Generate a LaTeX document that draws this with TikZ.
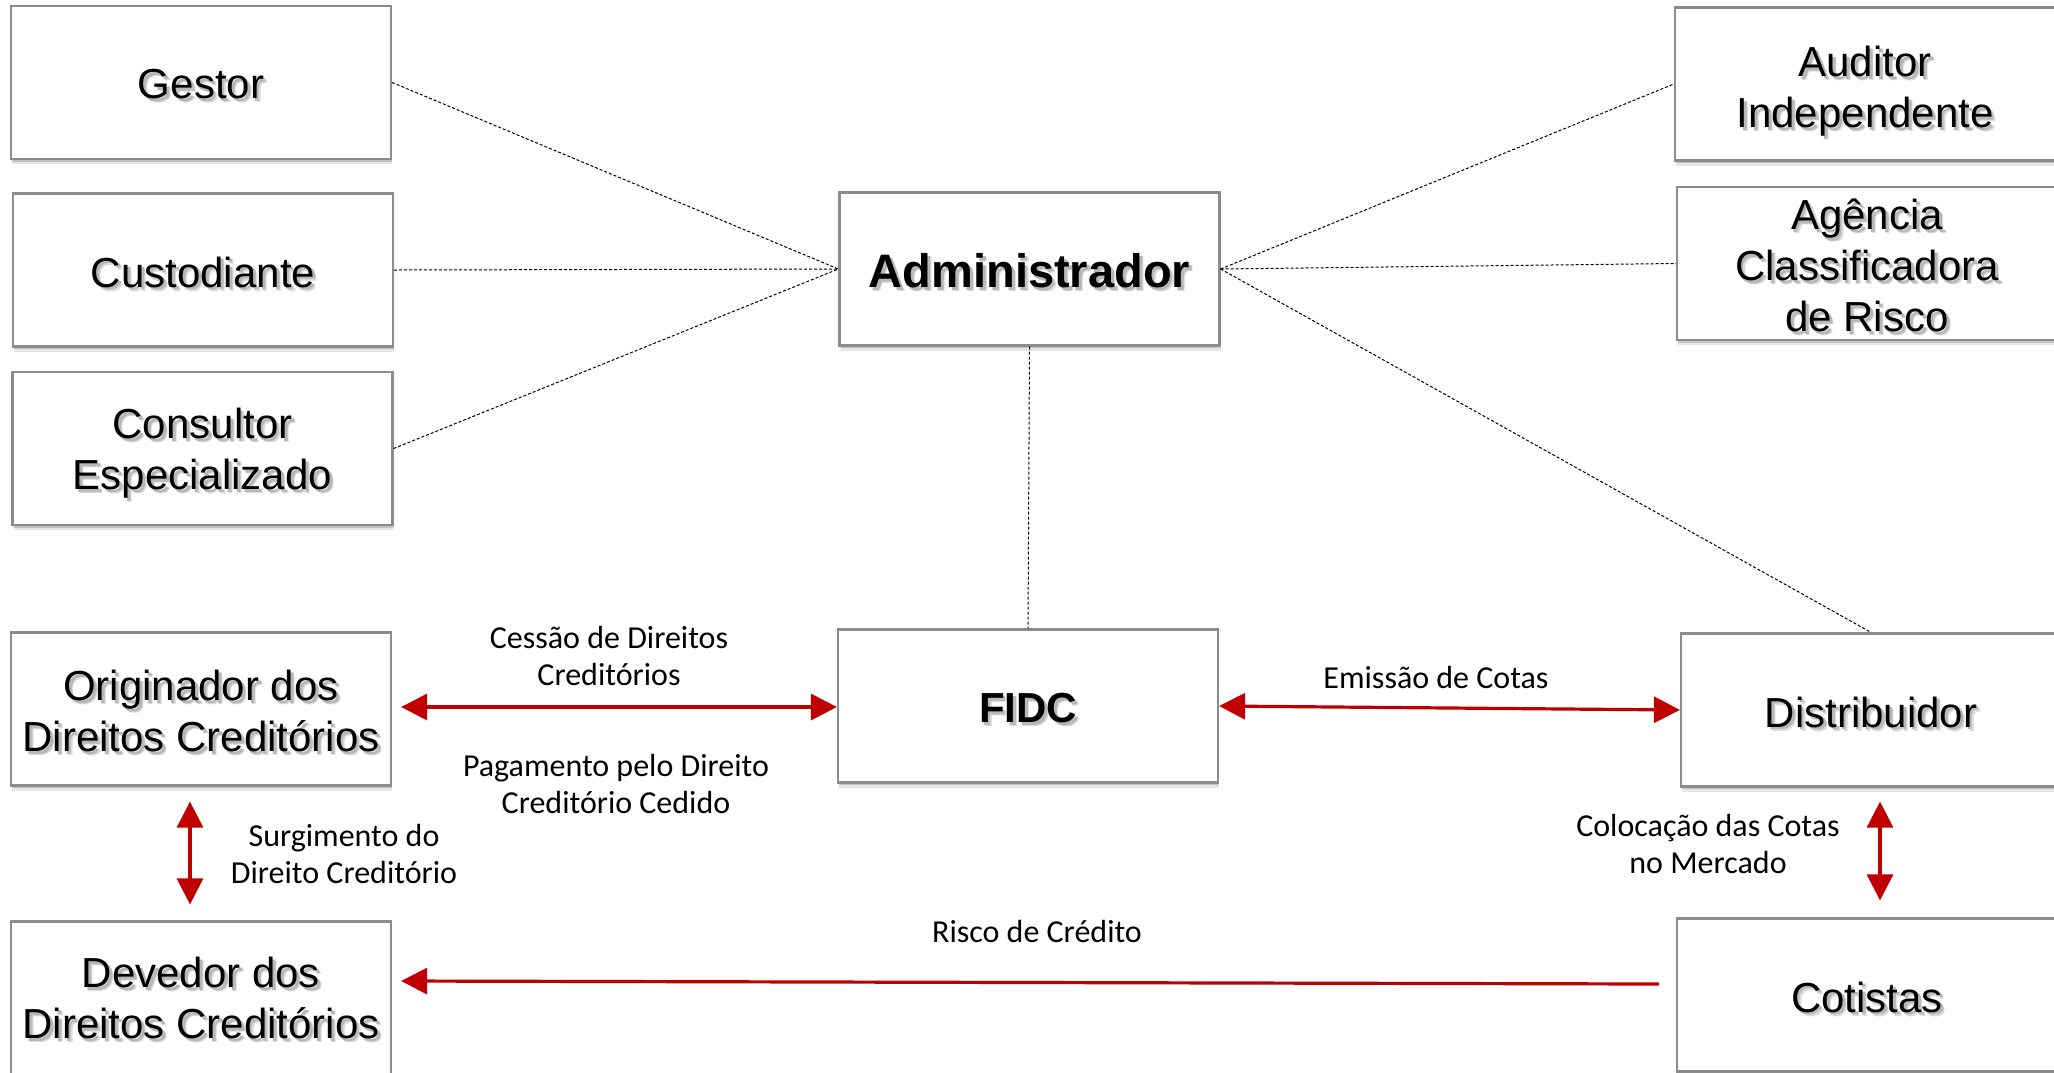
\documentclass[tikz,border=0pt]{standalone}
\usepackage{fontspec}
\setmainfont{Liberation Sans}
\newfontfamily\calfont{Carlito}
\usetikzlibrary{arrows.meta,shadows}
\definecolor{rd}{HTML}{C00000}
\newcommand\shd[2][2pt]{\leavevmode\raisebox{-#1}[\height][\depth]{\rlap{\hspace{2.0pt}\raisebox{-2.0pt}{\textcolor{black!14}{#2}}}\rlap{\hspace{1.4pt}\raisebox{-1.4pt}{\textcolor{black!28}{#2}}}#2}}
\tikzset{
  boxnode/.style={draw=black!45, line width=1.1pt, fill=white, minimum width=190pt, minimum height=76.5pt,
    align=center, inner sep=0pt, font=\fontsize{21}{25.5}\selectfont,
    general shadow={shadow xshift=0.5pt, shadow yshift=-2.5pt, fill=black, opacity=0.10},
    general shadow={shadow xshift=0.3pt, shadow yshift=-1.3pt, fill=black, opacity=0.15}},
  lbl/.style={font=\calfont\fontsize{16}{18.5}\selectfont, align=center, inner sep=0pt},
  dotl/.style={draw=black, line width=0.5pt, dash pattern=on 1.5pt off 1pt},
  redarr/.style={draw=rd, line width=1.6pt, {Triangle[length=13pt,width=13pt]}-{Triangle[length=13pt,width=13pt]}},
  redone/.style={draw=rd, line width=1.6pt, -{Triangle[length=13pt,width=13pt]}}
}
\begin{document}
\begin{tikzpicture}[x=0.5pt,y=-0.5pt]
\useasboundingbox (0,0) rectangle (2054,1072);
\clip (0,0) rectangle (2054,1072);
\fill[white] (0,0) rectangle (2054,1072);
% boxes
\node[boxnode] (gestor) at (201,82.5) {\shd{Gestor}};
\node[boxnode] (cust) at (203,270) {\shd{Custodiante}};
\node[boxnode] (cons) at (202.5,448.5) {\shd[3.5pt]{Consultor}\\\shd[3.5pt]{Especializado}};
\node[boxnode, font=\bfseries\fontsize{23.5}{27}\selectfont] (adm) at (1029.5,269) {\shd{Administrador}};
\node[boxnode] (aud) at (1865,84) {\shd[4.5pt]{Auditor}\\\shd[4.5pt]{Independente}};
\node[boxnode] (agc) at (1867,263.5) {\shd{Agência}\\\shd{Classificadora}\\\shd{de Risco}};
\node[boxnode] (orig) at (201,709) {\shd{Originador dos}\\\shd{Direitos Creditórios}};
\node[boxnode, font=\bfseries\fontsize{21}{24}\selectfont] (fidc) at (1028,706) {\shd{FIDC}};
\node[boxnode] (dist) at (1871,710) {\shd{Distribuidor}};
\node[boxnode] (dev) at (201,998) {\shd[1pt]{Devedor dos}\\\shd[1pt]{Direitos Creditórios}};
\node[boxnode] (cot) at (1867,995) {\shd{Cotistas}};
% dotted connectors
\draw[dotl] (gestor.east) -- (adm.west);
\draw[dotl] (cust.east) -- (adm.west);
\draw[dotl] (cons.east) -- (adm.west);
\draw[dotl] (adm.east) -- (aud.west);
\draw[dotl] (adm.east) -- (agc.west);
\draw[dotl] (adm.east) -- (dist.north);
\draw[dotl] (adm.south) -- (fidc.north);
% red arrows
\draw[redarr] ([xshift=4.5pt,yshift=1pt]orig.east) -- ([yshift=-0.5pt]fidc.west);
\draw[redarr] (fidc.east) -- (dist.west);
\draw[redarr] ([xshift=-5.5pt,yshift=-7.5pt]orig.south) -- ([xshift=-5.5pt,yshift=8pt]dev.north);
\draw[redarr] ([xshift=4.5pt,yshift=-7pt]dist.south) -- ([xshift=6.5pt,yshift=8.5pt]cot.north);
\draw[redone] ([xshift=-8.5pt,yshift=5.5pt]cot.west) -- ([xshift=4.5pt,yshift=8.5pt]dev.east);
% labels
\node[lbl] (l1) at (609,656) {Cessão de Direitos\\Creditórios};
\node[lbl] (l2) at (616,784) {Pagamento pelo Direito\\Creditório Cedido};
\node[lbl] (l3) at (344,854) {Surgimento do\\Direito Creditório};
\node[lbl] (l4) at (1436,677) {Emissão de Cotas};
\node[lbl] (l5) at (1708,843.5) {Colocação das Cotas\\no Mercado};
\node[lbl] (l6) at (1037,931) {Risco de Crédito};
\end{tikzpicture}
\end{document}
